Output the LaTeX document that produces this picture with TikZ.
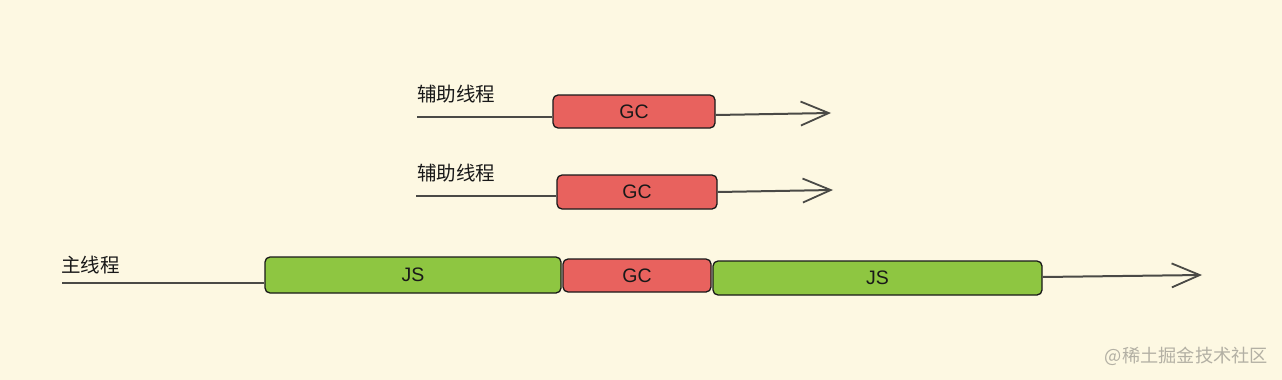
\documentclass[tikz,border=0pt]{standalone}
\usepackage{fontspec}
\setmainfont{Liberation Sans}
\newfontfamily\cjk{Noto Sans CJK SC}
\usetikzlibrary{arrows.meta}
\definecolor{bgc}{HTML}{FDF8E2}
\definecolor{gcred}{HTML}{E8625E}
\definecolor{jsgreen}{HTML}{8EC641}
\definecolor{thread}{HTML}{4A4A46}
\definecolor{wm}{HTML}{B3B0A4}
\tikzset{
  blk/.style={draw=black!90, line width=1.3pt, rounded corners=5pt, inner sep=0pt,
    font=\fontsize{19.5}{21}\selectfont, text=black!90},
  gcbox/.style={blk, fill=gcred},
  jsbox/.style={blk, fill=jsgreen},
  thr/.style={draw=thread, line width=2pt},
  thrarrow/.style={thr, -{Straight Barb[length=28pt, width=24pt, line width=1.8pt]}},
  lbl/.style={anchor=west, inner sep=0pt, font=\cjk\fontsize{19.5}{21}\selectfont, text=black!90},
}
\begin{document}
\begin{tikzpicture}[x=1pt, y=-1pt]
\useasboundingbox[fill=bgc] (0,0) rectangle (1282,380);

% row 1
\node[lbl] (l1) at (417,94) {辅助线程};
\node[gcbox, minimum width=162pt, minimum height=33pt] (gc1) at (634,111.5) {GC};
\coordinate (s1) at (417,117);
\coordinate (e1) at (831,113);
\draw[thr] (s1) -- (s1 -| gc1.west);
\draw[thrarrow] (gc1.east |- 0,115) -- (e1);

% row 2
\node[lbl] (l2) at (417,173) {辅助线程};
\node[gcbox, minimum width=160pt, minimum height=34pt] (gc2) at (637,192) {GC};
\coordinate (s2) at (416,196);
\coordinate (e2) at (833,190);
\draw[thr] (s2) -- (s2 -| gc2.west);
\draw[thrarrow] (gc2.east |- 0,192) -- (e2);

% row 3
\node[lbl] (l3) at (61,265) {主线程};
\node[jsbox, minimum width=296pt, minimum height=36pt] (js1) at (413,275) {JS};
\node[gcbox, minimum width=148pt, minimum height=33pt] (gc3) at (637,275.5) {GC};
\node[jsbox, minimum width=329pt, minimum height=34pt] (js2) at (877.5,278) {JS};
\coordinate (s3) at (62,283);
\coordinate (e3) at (1202,275);
\draw[thr] (s3) -- (s3 -| js1.west);
\draw[thrarrow] (js2.east |- 0,277) -- (e3);

% watermark
\node[anchor=east, inner sep=0pt, font=\cjk\fontsize{18.2}{20}\selectfont, text=wm] (wm) at (1268,356) {@稀土掘金技术社区};
\end{tikzpicture}
\end{document}
